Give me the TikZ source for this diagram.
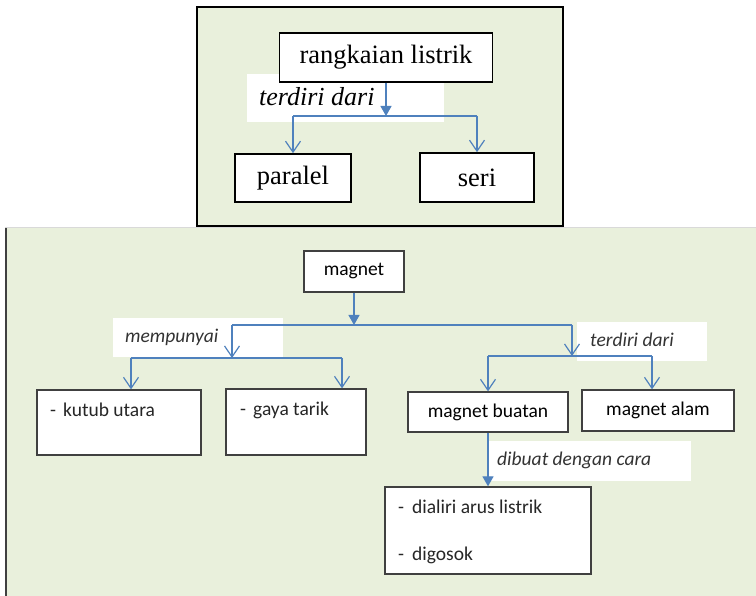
\documentclass[tikz,border=0pt]{standalone}
\usepackage{fontspec}
\setmainfont{Liberation Serif}
\newfontfamily\calfont{Carlito}
\usetikzlibrary{arrows.meta}
\definecolor{panelgreen}{HTML}{E9F0DC}
\definecolor{linkblue}{HTML}{4F81BD}
\definecolor{boxgray}{HTML}{404040}
\tikzset{
  serifbox/.style={draw=black, line width=1.6pt, fill=white, font=\fontsize{26.5}{30}\selectfont, inner sep=0pt},
  sansbox/.style={draw=boxgray, line width=1.3pt, fill=white, font=\calfont\fontsize{19.5}{23}\selectfont, inner sep=0pt},
  whitepatch/.style={fill=white, draw=none, inner sep=0pt},
  seriflabel/.style={font=\fontsize{26}{30}\selectfont\itshape, inner sep=0pt, anchor=west},
  sanslabel/.style={font=\calfont\fontsize{19.5}{23}\selectfont\itshape, text=black!80, inner sep=0pt, anchor=west},
  boxtext/.style={font=\calfont\fontsize{19.5}{23}\selectfont, text=black!85, inner sep=0pt, anchor=west},
  link/.style={draw=linkblue, line width=1.2pt},
  tri/.style={link, -{Triangle[width=11pt,length=10pt]}},
  barb/.style={link, -{Straight Barb[width=15pt,length=11pt,line width=1.2pt]}},
}
\begin{document}
\begin{tikzpicture}[x=1pt,y=-1pt]
\useasboundingbox (0,0) rectangle (756,596);
\fill[white] (0,0) rectangle (756,596);

% lower panel: background and left edge
\fill[panelgreen] (5,227) rectangle (756,596);
\draw[boxgray, line width=2pt] (6,227) -- (6,596);
\draw[black!15, line width=0.8pt] (5,227) -- (756,227);

% upper panel
\draw[black, line width=1.6pt, fill=panelgreen] (197,7) rectangle (563,226);

% ---------- upper panel: rangkaian listrik ----------
\node[whitepatch, minimum width=197pt, minimum height=48pt] (lblA) at (345.5,98) {};
\node[seriflabel] (txtA) at (259,97) {terdiri dari};

\node[serifbox, minimum width=213pt, minimum height=49pt] (rl) at (386,57.5) {rangkaian listrik};
\node[serifbox, minimum width=116pt, minimum height=48pt] (pl) at (293,178) {paralel};
\node[serifbox, minimum width=114pt, minimum height=49pt] (sr) at (477,177.5) {seri};

\coordinate (jA) at (386,116);
\draw[tri] (rl) -- (jA);
\draw[link] (pl |- jA) -- (sr |- jA);
\draw[barb] (pl |- jA) -- (pl.north);
\draw[barb] (sr |- jA) -- (sr.north);

% ---------- lower panel: magnet ----------
\node[whitepatch, minimum width=170pt, minimum height=39pt] (lblB) at (198,337.5) {};
\node[sanslabel] (txtB) at (125,337) {mempunyai};
\node[whitepatch, minimum width=130pt, minimum height=39pt] (lblC) at (642,341.5) {};
\node[sanslabel] (txtC) at (590,340) {terdiri dari};
\node[whitepatch, minimum width=204pt, minimum height=40pt] (lblD) at (589,461) {};
\node[sanslabel] (txtD) at (497,460) {dibuat dengan cara};

\node[sansbox, minimum width=100pt, minimum height=41pt] (mg) at (354,271.5) {magnet};
\node[sansbox, minimum width=164pt, minimum height=65pt] (ku) at (119,422.5) {};
\node[boxtext] (kuT) at (50,410) {-\hspace{7pt}kutub utara};
\node[sansbox, minimum width=140pt, minimum height=66pt] (gy) at (296,422) {};
\node[boxtext] (gyT) at (240,410) {-\hspace{7pt}gaya tarik};
\node[sansbox, minimum width=160pt, minimum height=40pt] (mb) at (488,412) {magnet buatan};
\node[sansbox, minimum width=152pt, minimum height=41pt] (ma) at (658,410.5) {magnet alam};
\node[sansbox, minimum width=206pt, minimum height=87pt] (dl) at (488,530.5) {};
\node[boxtext] (dlT1) at (398,507) {-\hspace{8pt}dialiri arus listrik};
\node[boxtext] (dlT2) at (398,555) {-\hspace{8pt}digosok};

% connectors from magnet
\coordinate (jB) at (354,325);
\coordinate (jL) at (232,325);
\coordinate (jR) at (572,325);
\coordinate (bL) at (232,358);
\coordinate (bR) at (572,356);
\coordinate (kuA) at (131,358);
\coordinate (gyA) at (342,358);
\coordinate (mbA) at (488,356);
\coordinate (maA) at (652,356);

\draw[tri] (mg) -- (jB);
\draw[link] (jL) -- (jR);
\draw[barb] (jL) -- (bL);
\draw[barb] (jR) -- (bR);

\draw[link] (kuA) -- (gyA);
\draw[barb] (kuA) -- (kuA |- ku.north);
\draw[barb] (gyA) -- (gyA |- gy.north);

\draw[link] (mbA) -- (maA);
\draw[barb] (mbA) -- (mbA |- mb.north);
\draw[barb] (maA) -- (maA |- ma.north);

\draw[tri] (mb) -- (dl);
\end{tikzpicture}
\end{document}
